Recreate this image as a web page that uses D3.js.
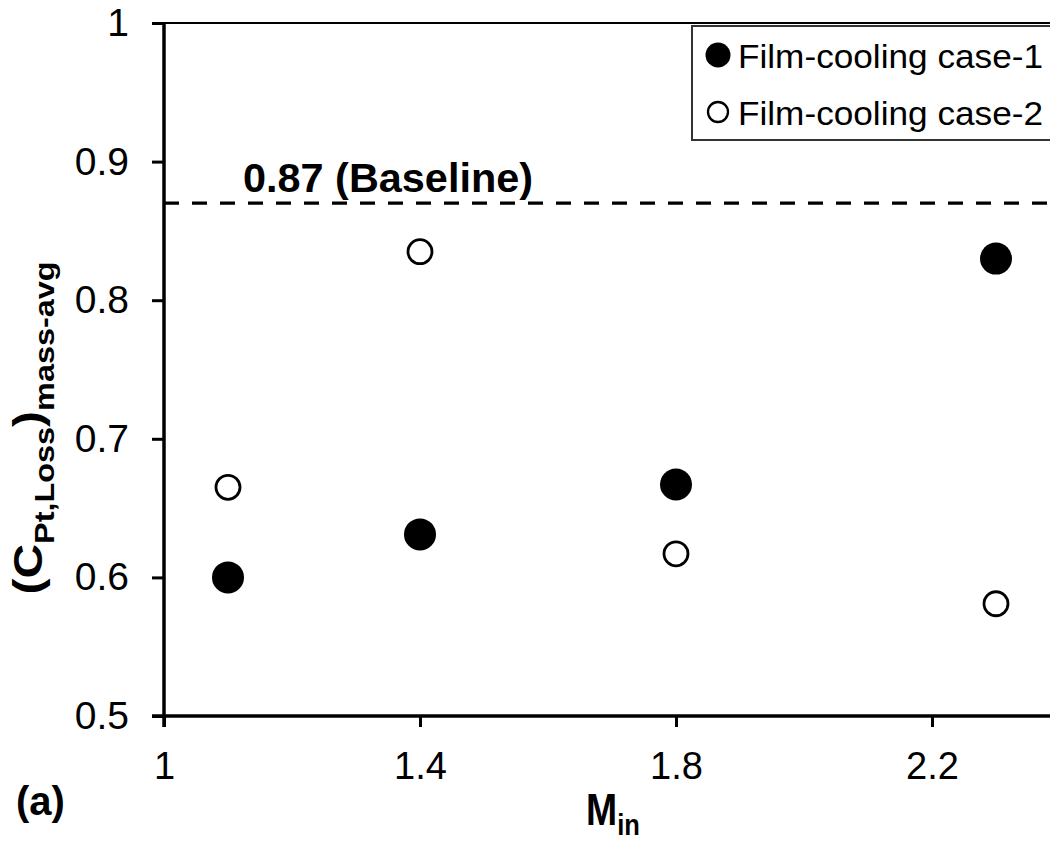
<!DOCTYPE html>
<html>
<head>
<meta charset="utf-8">
<script src="https://cdn.jsdelivr.net/npm/d3@7"></script>
<style>
  body { margin: 0; background: #fff; }
  text { font-family: "Liberation Sans", Arial, sans-serif; fill: #000; }
</style>
</head>
<body>
<div id="chart"></div>
<script>
// data
const mIn = [1.1, 1.4, 1.8, 2.3];
const case1 = [0.600, 0.631, 0.667, 0.830];
const case2 = [0.665, 0.835, 0.617, 0.581];
const baselineValue = 0.87;
const baselineLabel = "0.87 (Baseline)";
const seriesNames = ["Film-cooling case-1", "Film-cooling case-2"];
const xTicks = [1, 1.4, 1.8, 2.2];
const yTicks = [0.5, 0.6, 0.7, 0.8, 0.9, 1];

const width = 1050;
const height = 843;

const svg = d3.select("#chart")
    .append("svg")
    .attr("width", width)
    .attr("height", height);

// scales (plot runs past the right edge of the picture, like the cropped original)
const x = d3.scaleLinear().domain([1, 2.6]).range([164, 164 + 1.6 * 640]);
const y = d3.scaleLinear().domain([0.5, 1]).range([716, 23]);

// top frame line
svg.append("line")
    .attr("x1", x(1)).attr("x2", width)
    .attr("y1", y(1)).attr("y2", y(1))
    .attr("stroke", "#000").attr("stroke-width", 2);

// baseline dashed line
svg.append("line")
    .attr("x1", x(1)).attr("x2", width)
    .attr("y1", y(baselineValue)).attr("y2", y(baselineValue))
    .attr("stroke", "#000")
    .attr("stroke-width", 3.2)
    .attr("stroke-dasharray", "15,13");

svg.append("text")
    .attr("x", 243)
    .attr("y", 192)
    .attr("font-size", 40)
    .attr("font-weight", "bold")
    .attr("textLength", 290)
    .attr("lengthAdjust", "spacingAndGlyphs")
    .text(baselineLabel);

// x axis
const xAxis = svg.append("g")
    .attr("transform", `translate(0,${y(0.5)})`)
    .call(d3.axisBottom(x).tickValues(xTicks).tickSize(11).tickPadding(25).tickFormat(d => String(d)));
xAxis.select(".domain").attr("d", `M${x(1) - 12},0H${width}`).attr("stroke-width", 3.5);
xAxis.selectAll(".tick line").attr("stroke-width", 3);
xAxis.selectAll(".tick text").attr("font-size", 38).attr("font-family", "Liberation Sans, Arial, sans-serif");

// y axis
const yAxis = svg.append("g")
    .attr("transform", `translate(${x(1)},0)`)
    .call(d3.axisLeft(y).tickValues(yTicks).tickSize(12).tickPadding(23).tickFormat(d => String(d)));
yAxis.select(".domain").attr("d", `M0,${y(1)}V${y(0.5) + 11}`).attr("stroke-width", 3.5);
yAxis.selectAll(".tick line").attr("stroke-width", 3);
yAxis.selectAll(".tick text").attr("font-size", 39).attr("font-family", "Liberation Sans, Arial, sans-serif");

// points
const pts1 = mIn.map((m, i) => ({ m: m, v: case1[i] }));
const pts2 = mIn.map((m, i) => ({ m: m, v: case2[i] }));

svg.append("g").selectAll("circle")
    .data(pts1)
    .enter()
    .append("circle")
    .attr("cx", d => x(d.m))
    .attr("cy", d => y(d.v))
    .attr("r", 16)
    .attr("fill", "#000");

svg.append("g").selectAll("circle")
    .data(pts2)
    .enter()
    .append("circle")
    .attr("cx", d => x(d.m))
    .attr("cy", d => y(d.v))
    .attr("r", 12)
    .attr("fill", "#fff")
    .attr("stroke", "#000")
    .attr("stroke-width", 2.8);

// legend
const legend = svg.append("g");
legend.append("rect")
    .attr("x", 692).attr("y", 26)
    .attr("width", 400).attr("height", 114)
    .attr("fill", "#fff")
    .attr("stroke", "#333")
    .attr("stroke-width", 2);

seriesNames.forEach((name, i) => {
    const cy = 55 + i * 57;
    legend.append("circle")
        .attr("cx", 718).attr("cy", cy)
        .attr("r", i === 0 ? 12.5 : 10)
        .attr("fill", i === 0 ? "#000" : "#fff")
        .attr("stroke", "#000")
        .attr("stroke-width", i === 0 ? 0 : 2.3);
    legend.append("text")
        .attr("x", 738).attr("y", cy + 13)
        .attr("font-size", 34)
        .attr("textLength", 305)
        .attr("lengthAdjust", "spacingAndGlyphs")
        .text(name);
});

// x axis title M_in
const xTitle = svg.append("text")
    .attr("transform", "translate(613,825) scale(0.85,1)")
    .attr("text-anchor", "middle")
    .attr("font-weight", "bold");
xTitle.append("tspan").attr("font-size", 44).text("M");
xTitle.append("tspan").attr("font-size", 30).attr("dy", 10).text("in");

// y axis title
const yTitle = svg.append("text")
    .attr("transform", "translate(42,428) rotate(-90) scale(1.2,1)")
    .attr("text-anchor", "middle")
    .attr("font-weight", "bold");
yTitle.append("tspan").attr("font-size", 40).text("(C");
yTitle.append("tspan").attr("font-size", 27).attr("dy", 12).text("Pt,Loss");
yTitle.append("tspan").attr("font-size", 40).attr("dy", -12).text(")");
yTitle.append("tspan").attr("font-size", 27).attr("dy", 12).text("mass-avg");

// panel label
svg.append("text")
    .attr("x", 16).attr("y", 815)
    .attr("font-size", 40)
    .attr("font-weight", "bold")
    .text("(a)");
</script>
</body>
</html>
